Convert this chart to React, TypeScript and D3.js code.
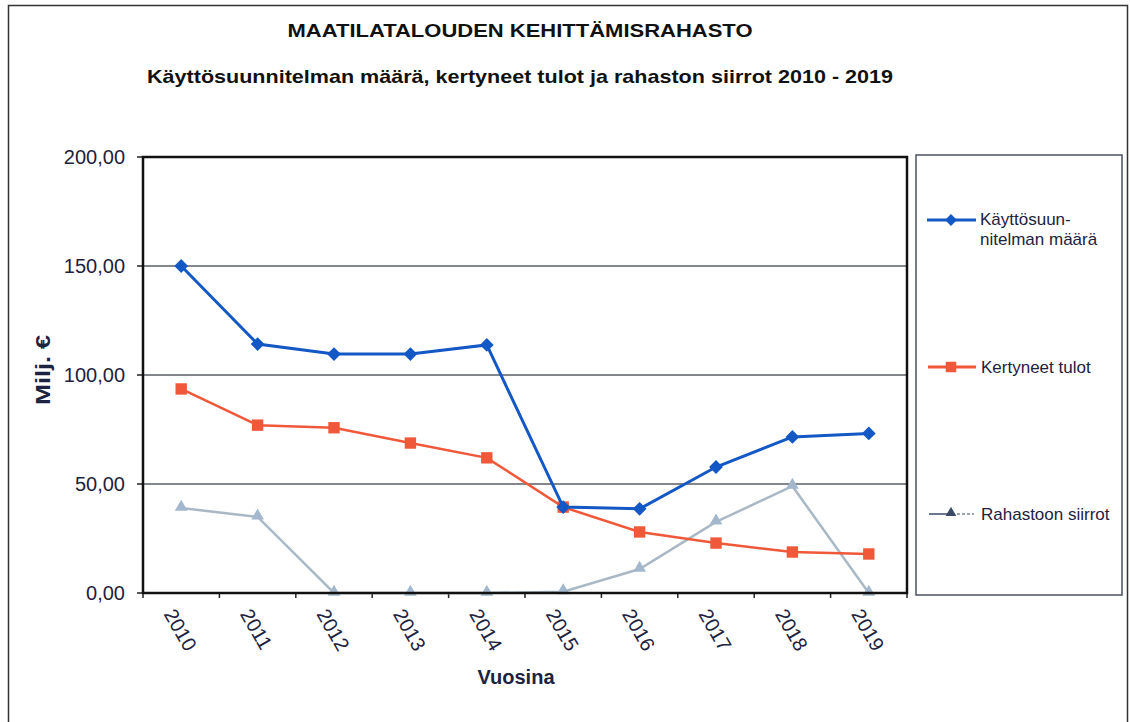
import React from "react";
import * as d3 from "d3";

const years = ["2010", "2011", "2012", "2013", "2014", "2015", "2016", "2017", "2018", "2019"];
const kayttosuunnitelma = [150, 114.2, 109.6, 109.6, 113.8, 39.4, 38.6, 57.8, 71.6, 73.2];
const kertyneetTulot = [93.6, 77, 75.8, 68.8, 62, 39.4, 28, 22.9, 18.8, 17.9];
const rahastoonSiirrot = [39, 34.9, 0, 0, 0, 0.6, 11, 32.6, 49, 0];
const yTicks = [0, 50, 100, 150, 200];

const W = 1130;
const H = 722;
const plot = { left: 143, right: 907, top: 157, bottom: 593 };
const font = "'Liberation Sans', Arial, sans-serif";
const ink = "#1d2240";
const blue = "#1358c4";
const red = "#f0583a";

const App = () => {
  const x = d3.scaleBand().domain(years).range([plot.left, plot.right]);
  const y = d3.scaleLinear().domain([0, 200]).range([plot.bottom, plot.top]);
  const cx = (yr: string) => (x(yr) ?? 0) + x.bandwidth() / 2;
  const fmt = (v: number) => v.toFixed(2).replace(".", ",");

  const line = (vals: number[]) =>
    d3.line<number>().x((_, i) => cx(years[i])).y((d) => y(d))(vals) ?? "";

  // square turned 45 degrees, as in the original
  const diamond = d3.symbol().type(d3.symbolSquare).size(95)() ?? "";
  const diamondSmall = d3.symbol().type(d3.symbolSquare).size(70)() ?? "";
  const square = d3.symbol().type(d3.symbolSquare).size(130)() ?? "";
  const squareSmall = d3.symbol().type(d3.symbolSquare).size(110)() ?? "";
  const triangle = d3.symbol().type(d3.symbolTriangle).size(70)() ?? "";

  const boundaries = years.map((yr) => x(yr) ?? 0).concat([plot.right]);

  return (
    <svg width={W} height={H} style={{ display: "block", position: "absolute", left: 0, top: 0 }}>
      <rect x={0} y={0} width={W} height={H} fill="#fff" />
      {/* outer frame */}
      <rect x={8.5} y={5.5} width={1119} height={730} fill="none" stroke="#333" strokeWidth={1.5} />

      <text x={520} y={37} textAnchor="middle" fontFamily={font} fontWeight="bold" fontSize={18} fill="#111"
        textLength={465} lengthAdjust="spacingAndGlyphs">
        MAATILATALOUDEN KEHITTÄMISRAHASTO
      </text>
      <text x={520} y={83} textAnchor="middle" fontFamily={font} fontWeight="bold" fontSize={19} fill="#111"
        textLength={746} lengthAdjust="spacingAndGlyphs">
        Käyttösuunnitelman määrä, kertyneet tulot ja rahaston siirrot 2010 - 2019
      </text>

      {/* gridlines and y ticks */}
      {yTicks.map((t) => (
        <g key={t}>
          {t > 0 && t < 200 && (
            <line x1={plot.left} x2={plot.right} y1={y(t)} y2={y(t)} stroke="#5a5f66" strokeWidth={1.3} />
          )}
          <line x1={plot.left - 6} x2={plot.left} y1={y(t)} y2={y(t)} stroke="#222" strokeWidth={1.5} />
          <text x={125} y={y(t) + 7} textAnchor="end" fontFamily={font} fontSize={20} fill={ink}>
            {fmt(t)}
          </text>
        </g>
      ))}

      {/* x ticks */}
      {boundaries.map((b, i) => (
        <line key={i} x1={b} x2={b} y1={plot.bottom} y2={plot.bottom + 5} stroke="#222" strokeWidth={1.5} />
      ))}

      {/* gray series */}
      <path d={line(rahastoonSiirrot)} fill="none" stroke="#aab8c6" strokeWidth={2.5} />
      {rahastoonSiirrot.map((v, i) => (
        <path key={i} d={triangle} transform={`translate(${cx(years[i])},${y(v) - 1})`} fill="#a3b8cc" />
      ))}
      {/* red series */}
      <path d={line(kertyneetTulot)} fill="none" stroke={red} strokeWidth={2.5} />
      {kertyneetTulot.map((v, i) => (
        <path key={i} d={square} transform={`translate(${cx(years[i])},${y(v)})`} fill={red} />
      ))}
      {/* blue series */}
      <path d={line(kayttosuunnitelma)} fill="none" stroke={blue} strokeWidth={3} />
      {kayttosuunnitelma.map((v, i) => (
        <path key={i} d={diamond} transform={`translate(${cx(years[i])},${y(v)}) rotate(45)`} fill={blue} />
      ))}

      {/* plot border */}
      <rect x={plot.left} y={plot.top} width={plot.right - plot.left} height={plot.bottom - plot.top} fill="none" stroke="#111" strokeWidth={2.5} />

      {/* x labels */}
      {years.map((yr) => (
        <text key={yr} transform={`translate(${cx(yr) - 18},${plot.bottom + 21}) rotate(60)`} fontFamily={font} fontSize={20} fill={ink}>
          {yr}
        </text>
      ))}

      <text x={516} y={684} textAnchor="middle" fontFamily={font} fontWeight="bold" fontSize={20} fill={ink}>
        Vuosina
      </text>
      <text transform={`translate(50,370) rotate(-90)`} textAnchor="middle" fontFamily={font} fontWeight="bold" fontSize={20} fill={ink}
        textLength={70} lengthAdjust="spacingAndGlyphs">
        Milj. €
      </text>

      {/* legend */}
      <rect x={916} y={155} width={206} height={440} fill="none" stroke="#4a5060" strokeWidth={1.5} />
      <g fontFamily={font} fontSize={17} fill={ink}>
        <line x1={927} x2={976} y1={220} y2={220} stroke={blue} strokeWidth={3} />
        <path d={diamondSmall} transform="translate(951,220) rotate(45)" fill={blue} />
        <text x={980} y={225}>Käyttösuun-</text>
        <text x={980} y={245}>nitelman määrä</text>

        <line x1={928} x2={976} y1={367} y2={367} stroke={red} strokeWidth={3} />
        <path d={squareSmall} transform="translate(951,367)" fill={red} />
        <text x={981} y={373}>Kertyneet tulot</text>

        <line x1={929} x2={950} y1={514} y2={514} stroke="#3c4a6a" strokeWidth={1.5} />
        <line x1={952} x2={974} y1={514} y2={514} stroke="#3c4a6a" strokeWidth={1.2} strokeDasharray="3,2" />
        <path d={d3.symbol().type(d3.symbolTriangle).size(50)() ?? ""} transform="translate(951,513)" fill="#3c4a6a" />
        <text x={981} y={520}>Rahastoon siirrot</text>
      </g>
    </svg>
  );
};

export default App;
